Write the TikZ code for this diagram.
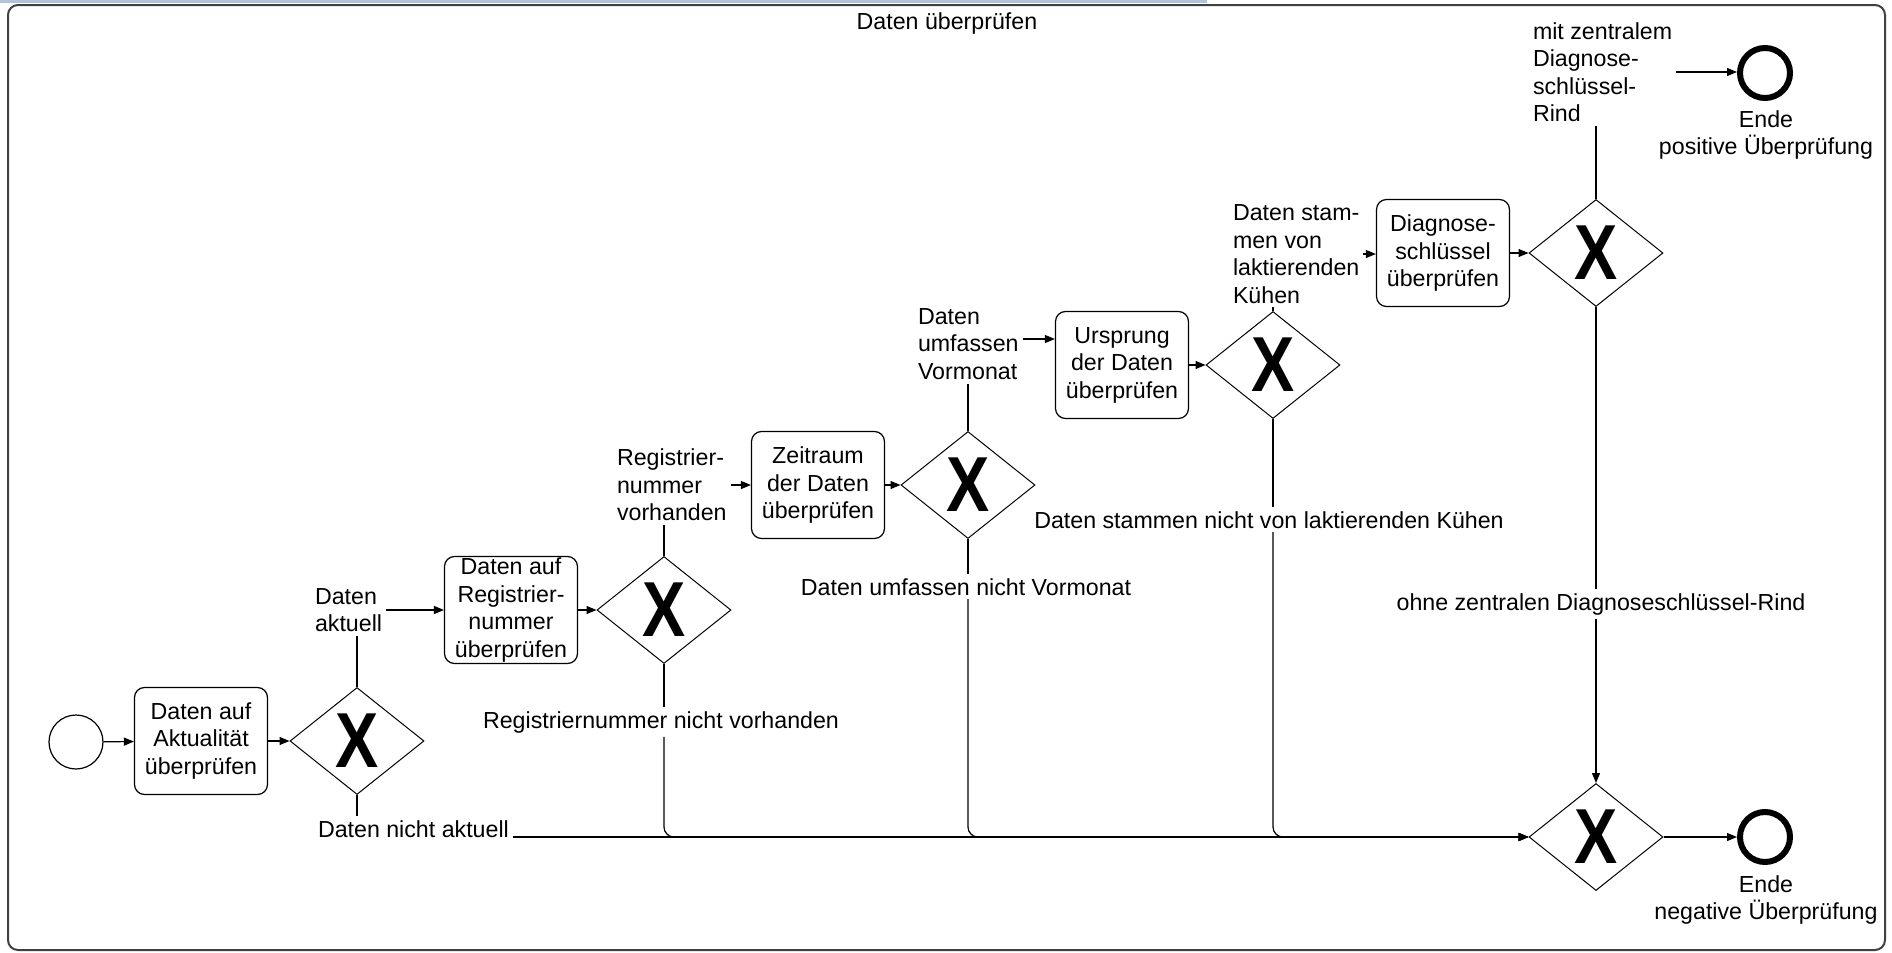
\documentclass[tikz,border=0pt]{standalone}
\usepackage{fontspec}
\setmainfont{Liberation Sans}
\usetikzlibrary{shapes.geometric,arrows.meta}
\definecolor{framegray}{RGB}{64,64,64}
\definecolor{stripblue}{RGB}{180,195,212}
% exclusive gateway marker
\newcommand{\gwmark}{\scalebox{0.83}[1]{\fontsize{39pt}{39pt}\selectfont\bfseries X}}

\begin{document}
\begin{tikzpicture}[x=0.5pt,y=-0.5pt,
  every node/.style={font=\fontsize{11.6pt}{13.75pt}\selectfont},
  task/.style={draw, rounded corners=5pt, line width=0.6pt, minimum width=66.5pt,
               minimum height=53.5pt, inner sep=0pt, align=center},
  gateway/.style={draw, diamond, line width=0.5pt, minimum width=67pt,
                  minimum height=53.5pt, inner sep=0pt},
  startev/.style={draw, circle, line width=0.6pt, minimum size=27pt, inner sep=0pt},
  endev/.style={draw, circle, line width=3pt, minimum size=25pt, inner sep=0pt},
  lbl/.style={inner sep=0pt, outer sep=2pt},
  flow/.style={line width=0.6pt, -{Triangle[length=5pt,width=4pt]}},
  seg/.style={line width=0.6pt},
]
\useasboundingbox (0,0) rectangle (1892,953);

% pool frame
\fill[stripblue] (0,0) rectangle (1207,3);
\draw[framegray, line width=1pt, rounded corners=5pt] (8,5) rectangle (1885,950);
\node[anchor=base] (title) at (947,30) {Daten überprüfen};

% events, tasks and gateways
\node[startev] (start) at (76,742) {};
\node[task] (t1) at (201,741) {Daten auf\\Aktualität\\überprüfen};
\node[gateway] (g1) at (357,741) {\gwmark};
\node[task] (t2) at (511,610) {Daten auf\\Registrier-\\nummer\\überprüfen};
\node[gateway] (g2) at (664,610) {\gwmark};
\node[task] (t3) at (818,485) {Zeitraum\\der Daten\\überprüfen};
\node[gateway] (g3) at (968,485) {\gwmark};
\node[task] (t4) at (1122,365) {Ursprung\\der Daten\\überprüfen};
\node[gateway] (g4) at (1273,365) {\gwmark};
\node[task] (t5) at (1443,253) {Diagnose-\\schlüssel\\überprüfen};
\node[gateway] (g5) at (1596,253) {\gwmark};
\node[gateway] (m) at (1596,837) {\gwmark};
\node[endev] (endpos) at (1765,73) {};
\node[endev] (endneg) at (1765,837) {};
\node[anchor=north, align=center, inner sep=0pt] (ep) at (1766,110) {Ende\\positive Überprüfung};
\node[anchor=north, align=center, inner sep=0pt] (en) at (1766,875) {Ende\\negative Überprüfung};

% flow labels (positive branches)
\node[lbl, align=left, anchor=west] (la) at (311,610) {Daten\\aktuell};
\node[lbl, align=left, anchor=west] (lb) at (613,485) {Registrier-\\nummer\\vorhanden};
\node[lbl, align=left, anchor=west] (lc) at (914,344) {Daten\\umfassen\\Vormonat};
\node[lbl, align=left, anchor=west] (ld) at (1229,254) {Daten stam-\\men von\\laktierenden\\Kühen};
\node[lbl, align=left, anchor=west] (le) at (1529,72) {mit zentralem\\Diagnose-\\schlüssel-\\Rind};

% flow labels (negative branches)
\node[lbl, anchor=base west] (lna) at (314,837) {Daten nicht aktuell};
\node[lbl, anchor=base] (l2n) at (661,728) {Registriernummer nicht vorhanden};
\node[lbl, anchor=base] (l3n) at (966,595) {Daten umfassen nicht Vormonat};
\node[lbl, anchor=base] (l4n) at (1269,528) {Daten stammen nicht von laktierenden Kühen};
\node[lbl, anchor=base] (l5n) at (1601,610) {ohne zentralen Diagnoseschlüssel-Rind};

% main sequence
\draw[flow] (start) -- (t1);
\draw[flow] (t1) -- (g1);
\draw[seg] (g1.north) -- (g1.north |- la.south);
\draw[flow] (la.east) -- (la.east -| t2.west);
\draw[flow] (t2) -- (g2);
\draw[seg] (g2.north) -- (g2.north |- lb.south);
\draw[flow] (lb.east) -- (lb.east -| t3.west);
\draw[flow] (t3) -- (g3);
\draw[seg] (g3.north) -- (g3.north |- lc.south);
\draw[flow] ([yshift=2.5pt]lc.east) -- ([yshift=2.5pt]lc.east -| t4.west);
\draw[flow] (t4) -- (g4);
\draw[seg] (g4.north) -- (g4.north |- ld.south);
\draw[flow] (ld.east) -- (ld.east -| t5.west);
\draw[flow] (t5) -- (g5);
\draw[seg] (g5.north) -- (g5.north |- le.south);
\draw[flow] (le.east) -- (le.east -| endpos.west);

% rejection branches into the merging gateway
\draw[seg] (g1.south) -- (g1.south |- lna.north);
\draw[flow] (lna.base east) -- (lna.base east -| m.west);
\draw[seg] (g2.south) -- (g2.south |- l2n.north);
\draw[flow, rounded corners=5pt] (g2.south |- l2n.south) -- (g2.south |- m.west) -- (m.west);
\draw[seg] (g3.south) -- (g3.south |- l3n.north);
\draw[flow, rounded corners=5pt] (g3.south |- l3n.south) -- (g3.south |- m.west) -- (m.west);
\draw[seg] (g4.south) -- (g4.south |- l4n.north);
\draw[flow, rounded corners=5pt] (g4.south |- l4n.south) -- (g4.south |- m.west) -- (m.west);
\draw[seg] (g5.south) -- (g5.south |- l5n.north);
\draw[flow] (g5.south |- l5n.south) -- (m.north);
\draw[flow] (m) -- (endneg);
\end{tikzpicture}
\end{document}
